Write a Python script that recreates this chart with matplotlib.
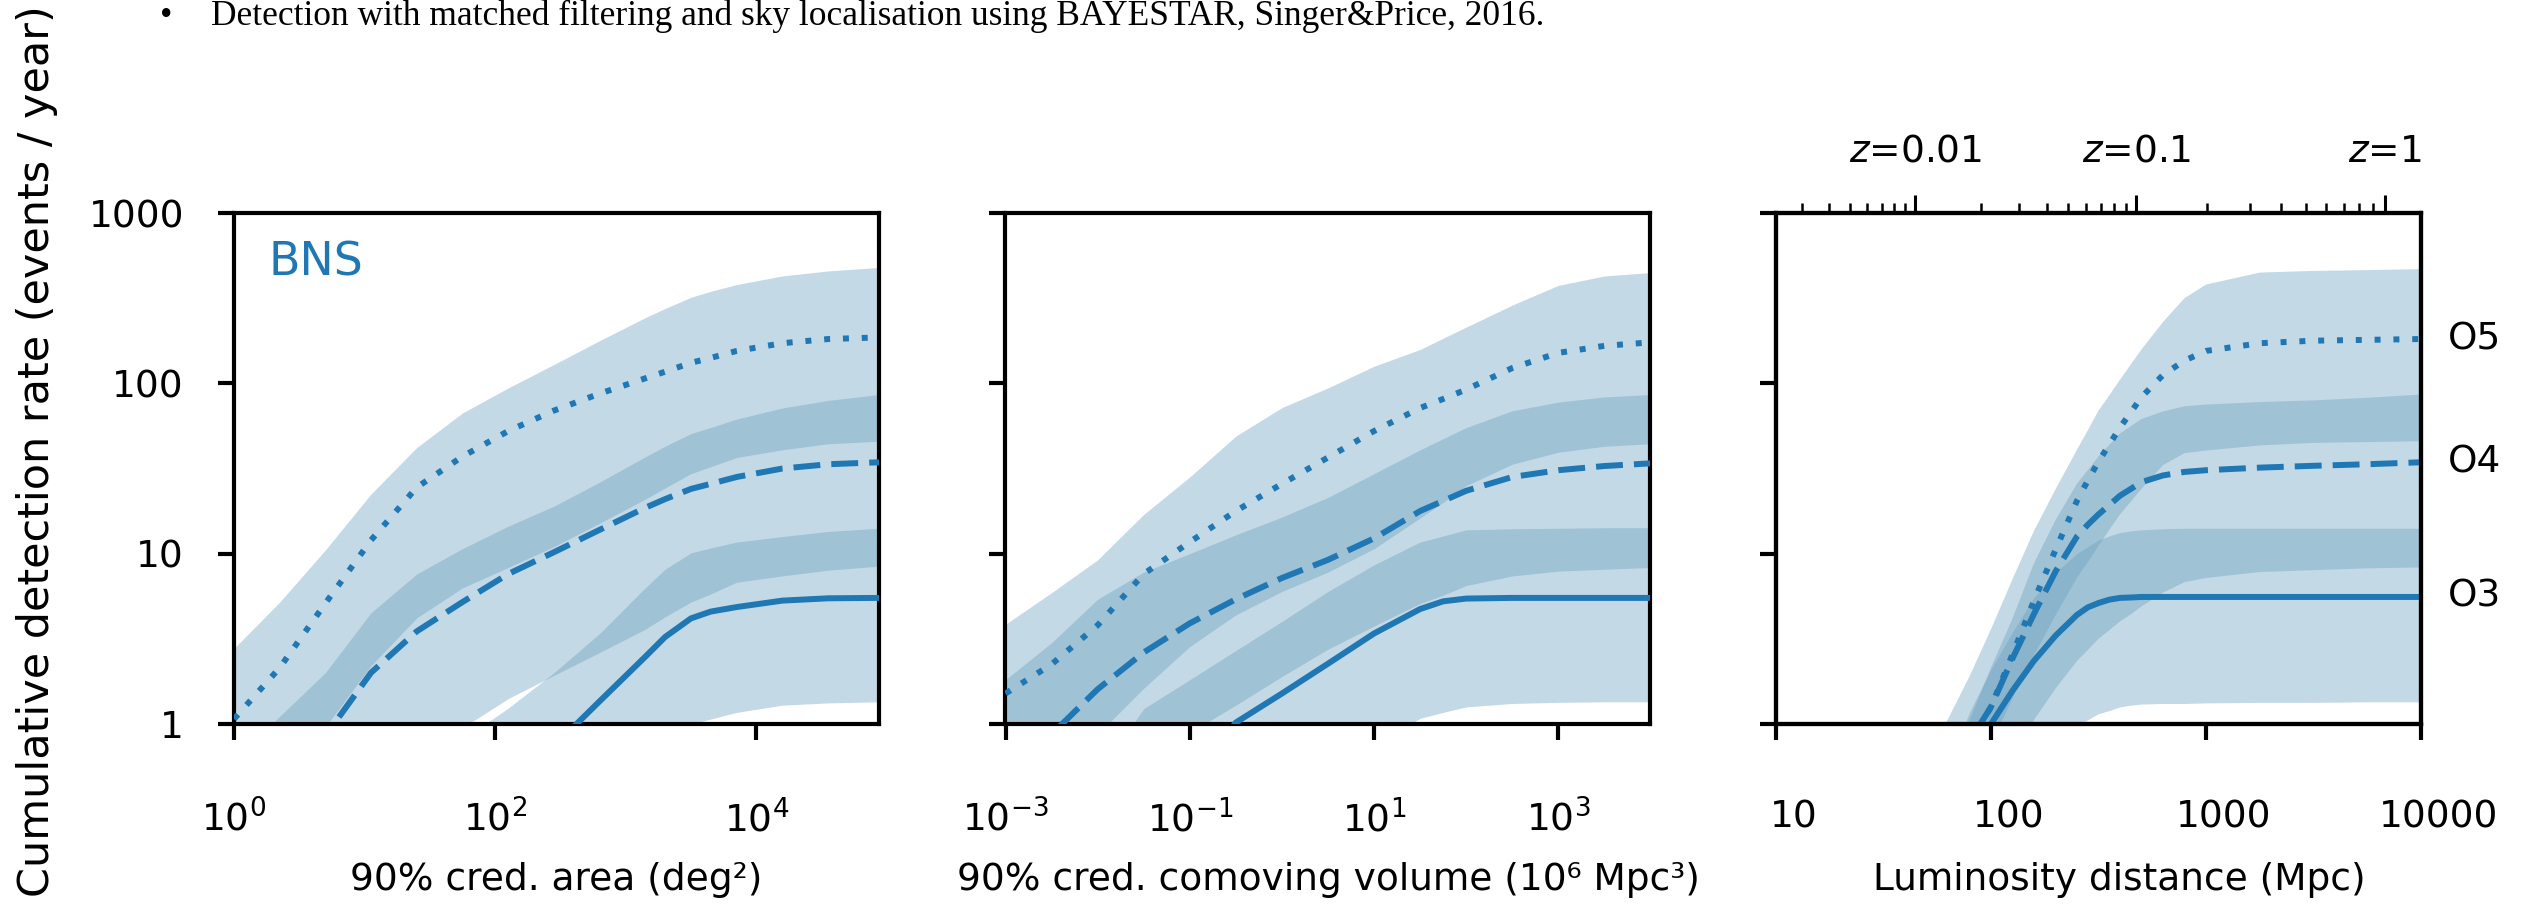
import numpy as np
import matplotlib
matplotlib.use("Agg")
import matplotlib.pyplot as plt
from matplotlib.ticker import NullLocator, FixedLocator, FixedFormatter, NullFormatter
from matplotlib.transforms import ScaledTranslation, blended_transform_factory

plt.rcParams['font.family'] = ['DejaVu Sans']
plt.rcParams['mathtext.fontset'] = 'dejavusans'

# ---------------------------------------------------------------- data
runs = ["O3", "O4", "O5"]

# Panel 1: 90% credible area (deg^2)
area_x = [1, 2.24, 5.0, 11.2, 25.1, 56.2, 126, 282, 631, 1410, 2000, 3160, 4470, 7080, 15800, 35500, 87000]
area_o5_med = [1.07, 2.14, 5.1, 12.0, 24.5, 37.2, 52.5, 69.2, 87, 107, 117, 132, 141, 155, 172, 182, 186]
area_o5_lo = [0.17, 0.4, 0.96, 2.2, 4.2, 6.3, 8.3, 11, 15.1, 20.9, 24.3, 29.5, 32.4, 36.7, 40.7, 44.2, 45.7]
area_o5_hi = [2.78, 5.2, 10.5, 22.4, 42, 67, 94, 129, 178, 243, 275, 320, 347, 380, 427, 457, 479]
area_o4_med = [0.13, 0.32, 0.85, 2.0, 3.5, 5.2, 7.6, 10.2, 13.8, 18.6, 20.9, 24, 25.7, 28.2, 31.6, 33.5, 34.4]
area_o4_lo = [0.03, 0.06, 0.13, 0.22, 0.4, 0.95, 1.41, 1.93, 2.63, 3.6, 4.26, 5.2, 5.8, 6.8, 7.4, 8.0, 8.45]
area_o4_hi = [0.6, 1.11, 2.0, 4.5, 7.6, 10.7, 14.5, 19, 26.3, 37, 42.7, 50.7, 55, 61.7, 71.6, 79.4, 86]
area_o3_med = [0.013, 0.022, 0.04, 0.07, 0.13, 0.22, 0.4, 0.74, 1.36, 2.48, 3.24, 4.17, 4.57, 4.86, 5.3, 5.47, 5.5]
area_o3_lo = [0.003, 0.005, 0.008, 0.013, 0.02, 0.032, 0.063, 0.126, 0.25, 0.5, 0.68, 1.0, 1.07, 1.17, 1.29, 1.33, 1.35]
area_o3_hi = [0.1, 0.16, 0.23, 0.35, 0.54, 0.81, 1.24, 2.0, 3.4, 6.3, 8.1, 10.1, 10.8, 11.7, 12.6, 13.5, 14.1]

# Panel 2: 90% credible comoving volume (10^6 Mpc^3)
vol_x = [1e-3, 3.16e-3, 1e-2, 3.16e-2, 0.1, 0.316, 1, 3.16, 10, 31.6, 56.2, 100, 316, 1000, 3160, 10000]
vol_o5_med = [1.51, 2.24, 3.8, 7.6, 11.7, 17.8, 25.7, 36.7, 52.5, 71.6, 81, 92, 123, 151, 166, 174]
vol_o5_lo = [0.16, 0.35, 0.87, 1.62, 2.85, 4.37, 6.0, 7.8, 10.7, 16.2, 20, 25.1, 33.5, 39.4, 42.7, 44.2]
vol_o5_hi = [3.85, 5.9, 9.2, 17, 28.2, 49, 72, 94, 126, 158, 184, 214, 288, 376, 427, 447]
vol_o4_med = [0.25, 0.87, 1.6, 2.63, 3.9, 5.4, 7.2, 9.2, 12.3, 17.8, 20.4, 23.4, 28.2, 30.9, 32.7, 33.9]
vol_o4_lo = [0.06, 0.13, 0.25, 0.45, 0.89, 1.29, 1.9, 2.75, 3.76, 5.1, 5.7, 6.5, 7.4, 7.9, 8.1, 8.3]
vol_o4_hi = [1.82, 3.0, 5.4, 7.8, 10, 12.9, 16.4, 21.4, 29.5, 40.7, 47.3, 55, 69, 77.6, 83.2, 86]
vol_o3_med = [0.018, 0.04, 0.09, 0.2, 0.45, 1.02, 1.51, 2.26, 3.4, 4.73, 5.25, 5.45, 5.5, 5.5, 5.5, 5.5]
vol_o3_lo = [0.01, 0.016, 0.025, 0.04, 0.063, 0.1, 0.16, 0.3, 0.75, 1.08, 1.17, 1.26, 1.32, 1.34, 1.35, 1.35]
vol_o3_hi = [0.1, 0.2, 0.5, 1.23, 1.82, 2.7, 4.0, 6.0, 8.6, 11.7, 12.7, 13.8, 14.0, 14.1, 14.2, 14.2]

# Panel 3: luminosity distance (Mpc)
dist_x = [10, 17.8, 31.6, 56.2, 79.4, 100, 126, 158, 200, 251, 282, 316, 355, 398, 447, 501, 631, 794,
          1000, 1780, 3160, 5620, 10000]
dist_o5_med = [0.001, 0.0063, 0.032, 0.16, 0.76, 1.26, 2.57, 5.25, 10.6, 20.4, 26.9, 34.7, 43.7, 55, 67.6,
               83, 112, 136, 155, 172, 178, 180, 182]
dist_o5_lo = [0.0003, 0.0016, 0.01, 0.1, 0.35, 0.76, 1.41, 2.51, 4.37, 7.2, 8.9, 11.1, 13.8, 17, 20.2,
              24, 33.1, 38.9, 40.3, 43.2, 44.7, 45.2, 45.7]
dist_o5_hi = [0.003, 0.016, 0.08, 0.8, 1.9, 3.6, 7.1, 13.5, 24, 40.7, 53, 69, 85, 105, 129,
              158, 229, 316, 380, 447, 457, 462, 468]
dist_o4_med = [0.001, 0.0063, 0.032, 0.16, 0.79, 1.26, 2.43, 4.4, 7.9, 12.6, 14.8, 17, 19.3, 21.9, 24,
               26.3, 28.8, 30.2, 30.9, 32, 32.8, 33.5, 34.4]
dist_o4_lo = [0.0003, 0.002, 0.01, 0.063, 0.2, 0.35, 0.63, 1.05, 1.62, 2.34, 2.72, 3.16, 3.55, 4.0, 4.4,
              4.9, 5.9, 6.8, 7.2, 7.8, 8.0, 8.2, 8.3]
dist_o4_hi = [0.0025, 0.0126, 0.063, 0.32, 1.05, 2.14, 4.17, 8.7, 15.8, 25.7, 30.9, 37.2, 43.5, 50.7, 56,
              61.7, 68.4, 73.3, 75, 77.6, 79.4, 82.2, 86]
dist_o3_med = [0.001, 0.005, 0.025, 0.126, 0.56, 1.0, 1.57, 2.34, 3.31, 4.37, 4.84, 5.13, 5.37, 5.5, 5.53,
               5.57, 5.57, 5.57, 5.57, 5.57, 5.57, 5.57, 5.57]
dist_o3_lo = [0.0001, 0.0005, 0.0025, 0.0126, 0.04, 0.08, 0.16, 0.32, 0.6, 0.98, 1.06, 1.15, 1.2, 1.26, 1.29,
              1.31, 1.32, 1.32, 1.33, 1.34, 1.34, 1.35, 1.35]
dist_o3_hi = [0.003, 0.016, 0.08, 0.4, 1.17, 2.1, 3.47, 5.5, 7.8, 10, 11, 12, 12.7, 13.3, 13.6,
              13.8, 14.0, 14.1, 14.1, 14.1, 14.1, 14.1, 14.1]

y_ticks = [1, 10, 100, 1000]
y_ticklabels = ["1", "10", "100", "1000"]
area_ticks = [1, 1e2, 1e4]
vol_ticks = [1e-3, 1e-1, 1e1, 1e3]
dist_ticks = [10, 100, 1000, 10000]
dist_ticklabels = ["10", "100", "1000", "10000"]
z_major = [0.01, 0.1, 1]
z_major_labels = ["$z$=0.01", "$z$=0.1", "$z$=1"]
z_minor = [0.003, 0.004, 0.005, 0.006, 0.007, 0.008, 0.009,
           0.02, 0.03, 0.04, 0.05, 0.06, 0.07, 0.08, 0.09,
           0.2, 0.3, 0.4, 0.5, 0.6, 0.7, 0.8, 0.9]

xlabels = ["90% cred. area (deg²)",
           "90% cred. comoving volume (10⁶ Mpc³)",
           "Luminosity distance (Mpc)"]

# ---------------------------------------------------------------- style
LINE_C = "#1f77b4"
BAND_C = "#6ba0bf"
BAND_A = 0.40
LW = 4.3
FS = 27
SPINE_W = 3.0

W, H = 2536, 905
fig = plt.figure(figsize=(W / 100, H / 100), dpi=100)

ax_left_px = [234, 1005.5, 1776]
ax_w_px = 645
ax_top_px, ax_bot_px = 213, 724
XLABEL_Y = -0.270


def lum_dist(z, H0=67.9, Om=0.3065):
    zz = np.linspace(0.0, z, 4001)
    Ez = np.sqrt(Om * (1 + zz) ** 3 + 1 - Om)
    Dc = 299792.458 / H0 * np.trapezoid(1.0 / Ez, zz)
    return (1 + z) * Dc


panels = [
    dict(x=area_x, xlim=(1, 8.7e4), xticks=area_ticks,
         o3=(area_o3_med, area_o3_lo, area_o3_hi),
         o4=(area_o4_med, area_o4_lo, area_o4_hi),
         o5=(area_o5_med, area_o5_lo, area_o5_hi)),
    dict(x=vol_x, xlim=(1e-3, 1e4), xticks=vol_ticks,
         o3=(vol_o3_med, vol_o3_lo, vol_o3_hi),
         o4=(vol_o4_med, vol_o4_lo, vol_o4_hi),
         o5=(vol_o5_med, vol_o5_lo, vol_o5_hi)),
    dict(x=dist_x, xlim=(10, 1e4), xticks=dist_ticks,
         o3=(dist_o3_med, dist_o3_lo, dist_o3_hi),
         o4=(dist_o4_med, dist_o4_lo, dist_o4_hi),
         o5=(dist_o5_med, dist_o5_lo, dist_o5_hi)),
]

styles = {"o3": dict(ls="-"),
          "o4": dict(ls=(0, (4.5, 1.85))),
          "o5": dict(ls=(0, (1.0, 2.15)))}

axes = []
for i, p in enumerate(panels):
    ax = fig.add_axes([ax_left_px[i] / W, 1 - ax_bot_px / H,
                       ax_w_px / W, (ax_bot_px - ax_top_px) / H])
    axes.append(ax)
    x = np.array(p["x"])
    for key in ["o5", "o4", "o3"]:
        med, lo, hi = p[key]
        ax.fill_between(x, lo, hi, color=BAND_C, alpha=BAND_A, lw=0, zorder=1)
    for key in ["o5", "o4", "o3"]:
        med, lo, hi = p[key]
        ax.plot(x, med, color=LINE_C, lw=LW, zorder=3, **styles[key])

    ax.set_xscale("log")
    ax.set_yscale("log")
    ax.set_xlim(*p["xlim"])
    ax.set_ylim(1, 1000)
    ax.yaxis.set_major_locator(FixedLocator(y_ticks))
    ax.yaxis.set_minor_locator(NullLocator())
    ax.xaxis.set_major_locator(FixedLocator(p["xticks"]))
    ax.xaxis.set_minor_locator(NullLocator())
    for s in ax.spines.values():
        s.set_linewidth(SPINE_W)
    ax.tick_params(axis="both", which="major", direction="out", length=11.5,
                   width=SPINE_W, labelsize=FS, color="black")
    ax.tick_params(axis="x", pad=43)
    ax.tick_params(axis="y", pad=24.5)
    if i == 0:
        ax.yaxis.set_major_formatter(FixedFormatter(y_ticklabels))
    else:
        ax.tick_params(axis="y", labelleft=False)
    ax.set_xlabel(xlabels[i], fontsize=FS)
    ax.xaxis.set_label_coords(0.5, XLABEL_Y)

# panel 3: plain tick labels, slightly shifted to the right like the original
ax3 = axes[2]
ax3.xaxis.set_major_formatter(FixedFormatter(dist_ticklabels))
shift = ScaledTranslation(18 / 100, 0, fig.dpi_scale_trans)
for lab in ax3.get_xticklabels():
    lab.set_transform(lab.get_transform() + shift)
ax3.xaxis.set_label_coords(0.5 + 21 / ax_w_px, XLABEL_Y)

# top redshift axis
axz = ax3.twiny()
axz.set_xscale("log")
axz.set_xlim(ax3.get_xlim())
axz.xaxis.set_major_locator(FixedLocator([lum_dist(z) for z in z_major]))
axz.xaxis.set_major_formatter(FixedFormatter(z_major_labels))
axz.xaxis.set_minor_locator(FixedLocator([lum_dist(z) for z in z_minor]))
axz.xaxis.set_minor_formatter(NullFormatter())
axz.tick_params(axis="x", which="major", direction="out", length=13, width=2.2,
                labelsize=FS, pad=18)
axz.tick_params(axis="x", which="minor", direction="out", length=7, width=1.8)
for s in axz.spines.values():
    s.set_linewidth(SPINE_W)

# run labels
tr = blended_transform_factory(ax3.transAxes, ax3.transData)
for key, name in [("o5", "O5"), ("o4", "O4"), ("o3", "O3")]:
    ax3.text(1 + 27 / ax_w_px, panels[2][key][0][-1], name, transform=tr,
             ha="left", va="center", fontsize=FS, clip_on=False)

# BNS label
axes[0].text(0.054, 0.947, "BNS", transform=axes[0].transAxes, color=LINE_C,
             fontsize=33, ha="left", va="top")

# y label
fig.text(37.5 / W, 1 - 451 / H, "Cumulative detection rate (events / year)",
         rotation=90, ha="center", va="center", fontsize=31)

# slide text, cut at the top
fig.text(160 / W, 1 - 25 / H, "•", family=["Liberation Serif", "DejaVu Serif"],
         fontsize=25.5, ha="left", va="baseline")
fig.text(211 / W, 1 - 25 / H,
         "Detection with matched filtering and sky localisation using BAYESTAR, Singer&Price, 2016.",
         family=["Liberation Serif", "DejaVu Serif"], fontsize=25.5, ha="left", va="baseline")

fig.savefig("out.png", dpi=100, facecolor="white")
